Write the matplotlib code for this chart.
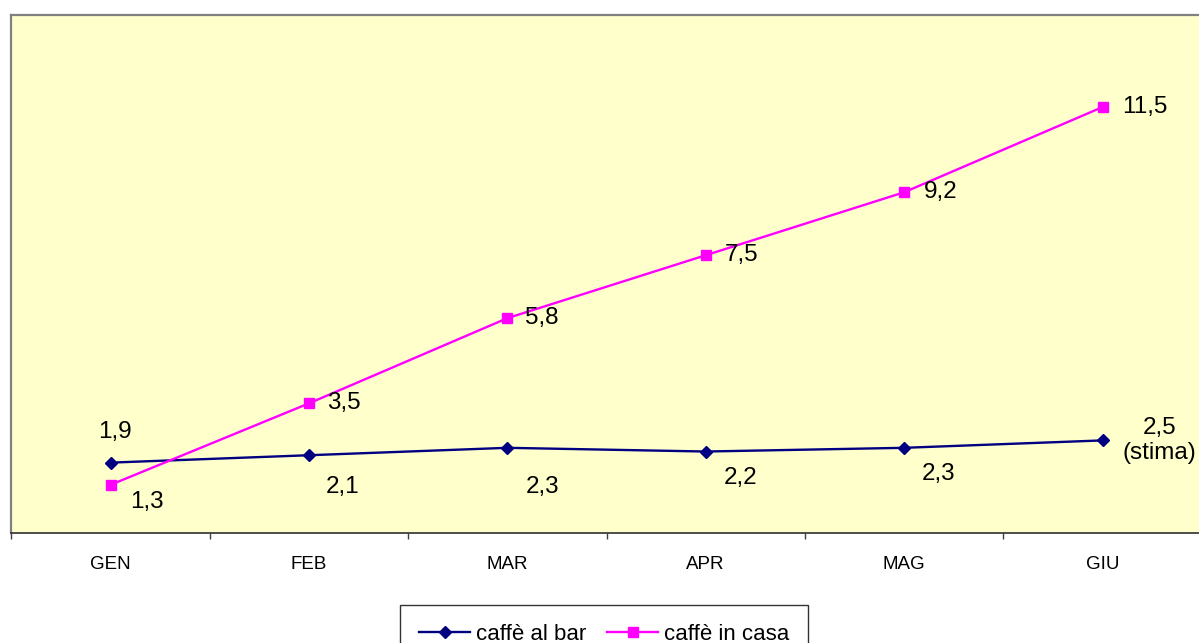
import matplotlib
matplotlib.use("Agg")
import matplotlib.pyplot as plt
from matplotlib.ticker import FixedLocator

plt.rcParams['font.family'] = ['Liberation Sans', 'DejaVu Sans']

months = ["GEN", "FEB", "MAR", "APR", "MAG", "GIU"]
bar_values = [1.9, 2.1, 2.3, 2.2, 2.3, 2.5]
home_values = [1.3, 3.5, 5.8, 7.5, 9.2, 11.5]
bar_labels = ["1,9", "2,1", "2,3", "2,2", "2,3", "2,5\n(stima)"]
home_labels = ["1,3", "3,5", "5,8", "7,5", "9,2", "11,5"]
series_names = ["caffè al bar", "caffè in casa"]

W, H = 1199, 643
fig = plt.figure(figsize=(W / 100, H / 100), dpi=100)
fig.patch.set_facecolor("white")

left_px, right_px, top_px, bottom_px = 11.3, 1201.7, 14.5, 533
ax = fig.add_axes([left_px / W, (H - bottom_px) / H,
                   (right_px - left_px) / W, (bottom_px - top_px) / H])
ax.set_facecolor("#FFFFCC")

x = list(range(len(months)))
ax.plot(x, bar_values, color="#000080", lw=1.7, marker="D", ms=6.2,
        markeredgecolor="#000080", markerfacecolor="#000080", label=series_names[0], zorder=3)
ax.plot(x, home_values, color="#FF00FF", lw=1.7, marker="s", ms=7.6,
        markeredgecolor="#FF00FF", markerfacecolor="#FF00FF", label=series_names[1], zorder=3)

ax.set_xlim(-0.5, len(months) - 0.5)
ax.set_ylim(0, 14)

# data labels (offsets in pixels, y up positive)
bar_offsets = [(4, 31, "center"), (17, -32, "left"), (18, -39, "left"),
               (18, -26, "left"), (18, -26, "left"), (57, 0, "center")]
home_offsets = [(20, -17, "left"), (18, 0, "left"), (18, 0, "left"),
                (19, 0, "left"), (20, 0, "left"), (20, 0, "left")]
for i, (v, lab) in enumerate(zip(bar_values, bar_labels)):
    dx, dy, ha = bar_offsets[i]
    ax.annotate(lab, xy=(i, v), xytext=(dx, dy), textcoords="offset pixels",
                ha=ha, va="center", fontsize=17.5, color="black",
                linespacing=1.15, multialignment="center", zorder=4)
for i, (v, lab) in enumerate(zip(home_values, home_labels)):
    dx, dy, ha = home_offsets[i]
    ax.annotate(lab, xy=(i, v), xytext=(dx, dy), textcoords="offset pixels",
                ha=ha, va="center", fontsize=17.5, color="black", zorder=4)

# axes styling
ax.set_yticks([])
ax.set_xticks(x)
ax.set_xticklabels(months, fontsize=13.5)
ax.tick_params(axis="x", which="major", length=0, pad=16.5)
ax.xaxis.set_minor_locator(FixedLocator([i - 0.5 for i in range(len(months) + 1)]))
ax.tick_params(axis="x", which="minor", length=4, width=1, color="#404040", direction="out")

for s in ["left", "top"]:
    ax.spines[s].set_color("#808080")
    ax.spines[s].set_linewidth(1.6)
ax.spines["right"].set_visible(False)
ax.spines["bottom"].set_color("#303030")
ax.spines["bottom"].set_linewidth(1.2)

leg = fig.legend(loc="upper center", bbox_to_anchor=(604 / W, (H - 605) / H),
                 ncol=2, fontsize=16, frameon=True, fancybox=False,
                 edgecolor="black", handlelength=2.3, handletextpad=0.25,
                 columnspacing=0.95, borderpad=0.85, borderaxespad=0)
leg.get_frame().set_linewidth(1.0)

fig.savefig("out.png", dpi=100, facecolor="white")
